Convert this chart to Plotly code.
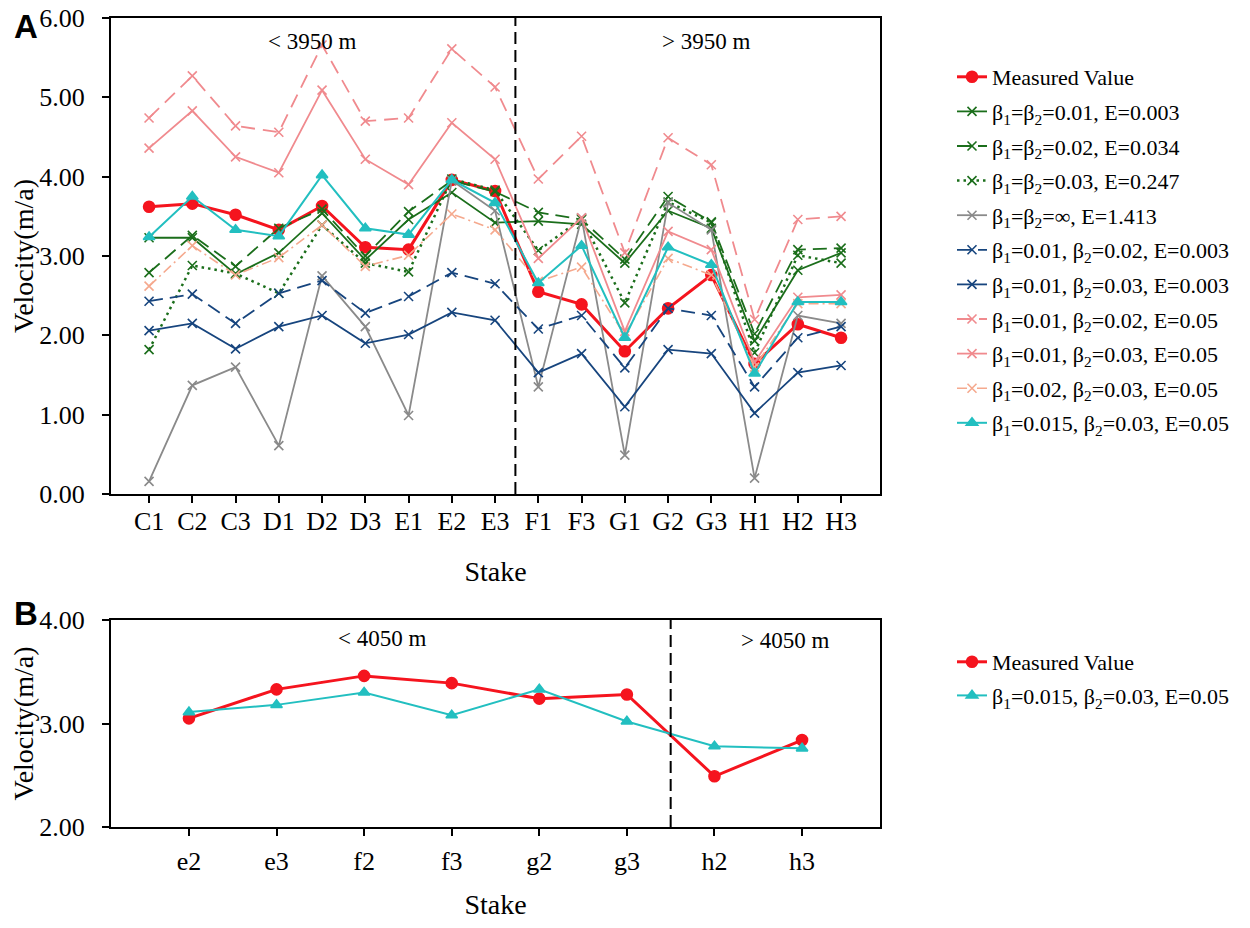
import plotly.graph_objects as go

# ---------------- data: panel A ----------------
stakes_a = ["C1", "C2", "C3", "D1", "D2", "D3", "E1", "E2", "E3",
            "F1", "F3", "G1", "G2", "G3", "H1", "H2", "H3"]
measured_a = [3.62, 3.66, 3.52, 3.33, 3.63, 3.11, 3.08, 3.96, 3.82,
              2.55, 2.39, 1.80, 2.34, 2.76, 1.64, 2.14, 1.97]
b_001_001 = [3.23, 3.23, 2.77, 3.04, 3.54, 2.95, 3.46, 3.80, 3.42,
             3.44, 3.40, 2.91, 3.57, 3.35, 1.93, 2.82, 3.04]
b_002_002 = [2.79, 3.26, 2.87, 3.35, 3.59, 3.00, 3.56, 3.95, 3.81,
             3.55, 3.46, 2.96, 3.75, 3.43, 2.02, 3.08, 3.10]
b_003_003 = [1.82, 2.88, 2.78, 2.53, 3.39, 2.91, 2.80, 3.97, 3.83,
             3.07, 3.47, 2.41, 3.68, 3.42, 1.78, 3.01, 2.91]
b_inf = [0.16, 1.37, 1.60, 0.61, 2.75, 2.11, 0.99, 3.95, 3.57,
         1.35, 3.48, 0.49, 3.67, 3.33, 0.20, 2.25, 2.15]
b_001_002_e003 = [2.43, 2.52, 2.15, 2.53, 2.69, 2.28, 2.49, 2.79, 2.65,
                  2.08, 2.25, 1.59, 2.34, 2.25, 1.35, 1.97, 2.11]
b_001_003_e003 = [2.06, 2.15, 1.83, 2.11, 2.25, 1.90, 2.01, 2.29, 2.19,
                  1.53, 1.77, 1.10, 1.82, 1.77, 1.02, 1.53, 1.62]
b_001_002_e005 = [4.74, 5.27, 4.64, 4.56, 5.66, 4.70, 4.74, 5.61, 5.13,
                  3.97, 4.51, 3.04, 4.49, 4.15, 2.20, 3.46, 3.50]
b_001_003_e005 = [4.36, 4.83, 4.25, 4.05, 5.09, 4.22, 3.90, 4.68, 4.22,
                  2.97, 3.48, 2.05, 3.31, 3.08, 1.66, 2.48, 2.51]
b_002_003_e005 = [2.62, 3.13, 2.76, 2.98, 3.39, 2.87, 3.01, 3.53, 3.33,
                  2.68, 2.86, 2.00, 2.97, 2.76, 1.60, 2.40, 2.40]
b_0015_003_e005 = [3.24, 3.75, 3.33, 3.25, 4.02, 3.35, 3.27, 3.96, 3.67,
                   2.66, 3.13, 1.97, 3.11, 2.89, 1.52, 2.42, 2.42]

# ---------------- data: panel B ----------------
stakes_b = ["e2", "e3", "f2", "f3", "g2", "g3", "h2", "h3"]
measured_b = [3.05, 3.33, 3.46, 3.39, 3.24, 3.28, 2.49, 2.84]
b_0015_003_b = [3.11, 3.18, 3.30, 3.08, 3.33, 3.02, 2.78, 2.76]

y_ticks_a = [0, 1, 2, 3, 4, 5, 6]
y_ticks_b = [2, 3, 4]

SERIF = "Liberation Serif, Times New Roman, serif"
SANS = "Liberation Sans, Arial, sans-serif"
RED = "#f5141e"
GREEN = "#1b6e1b"
GREY = "#8a8a8a"
BLUE = "#17457e"
CORAL = "#f08a8e"
PEACH = "#f5a98e"
CYAN = "#22bfc0"

# the page body adds an 8px margin; the figure is sized to fit inside the window
OFF = 8
W, H = 1250 - 2 * OFF, 928 - 2 * OFF


def px(x):
    return (x - OFF) / W


def py(y):
    return 1 - (y - OFF) / H


fig = go.Figure()

series_a = [
    ("Measured Value", measured_a, RED, "solid", 3, "circle", 11),
    ("β<sub>1</sub>=β<sub>2</sub>=0.01, E=0.003", b_001_001, GREEN, "solid", 1.8, "x-thin", 9),
    ("β<sub>1</sub>=β<sub>2</sub>=0.02, E=0.034", b_002_002, GREEN, "14px,7px", 1.8, "x-thin", 9),
    ("β<sub>1</sub>=β<sub>2</sub>=0.03, E=0.247", b_003_003, GREEN, "2.5px,4px", 2.5, "x-thin", 9),
    ("β<sub>1</sub>=β<sub>2</sub>=∞, E=1.413", b_inf, GREY, "solid", 1.8, "x-thin", 9),
    ("β<sub>1</sub>=0.01, β<sub>2</sub>=0.02, E=0.003", b_001_002_e003, BLUE, "14px,7px", 1.8, "x-thin", 9),
    ("β<sub>1</sub>=0.01, β<sub>2</sub>=0.03, E=0.003", b_001_003_e003, BLUE, "solid", 1.8, "x-thin", 9),
    ("β<sub>1</sub>=0.01, β<sub>2</sub>=0.02, E=0.05", b_001_002_e005, CORAL, "14px,8px", 1.8, "x-thin", 9),
    ("β<sub>1</sub>=0.01, β<sub>2</sub>=0.03, E=0.05", b_001_003_e005, CORAL, "solid", 1.8, "x-thin", 9),
    ("β<sub>1</sub>=0.02, β<sub>2</sub>=0.03, E=0.05", b_002_003_e005, PEACH, "10px,4px,2px,4px", 1.6, "x-thin", 9),
    ("β<sub>1</sub>=0.015, β<sub>2</sub>=0.03, E=0.05", b_0015_003_e005, CYAN, "solid", 2, "triangle-up", 10),
]

for i, (name, vals, col, dash, w, sym, sz) in enumerate(series_a):
    fig.add_trace(go.Scatter(
        x=stakes_a, y=vals, name=name, mode="lines+markers",
        line=dict(color=col, width=w, dash=dash),
        marker=dict(symbol=sym, size=sz, color=col, line=dict(color=col, width=1.6)),
        xaxis="x", yaxis="y", legend="legend", legendgroup="a%d" % i,
    ))

series_b = [
    ("Measured Value", measured_b, RED, "solid", 3, "circle", 11),
    ("β<sub>1</sub>=0.015, β<sub>2</sub>=0.03, E=0.05", b_0015_003_b, CYAN, "solid", 2, "triangle-up", 10),
]
for i, (name, vals, col, dash, w, sym, sz) in enumerate(series_b):
    fig.add_trace(go.Scatter(
        x=stakes_b, y=vals, name=name, mode="lines+markers",
        line=dict(color=col, width=w, dash=dash),
        marker=dict(symbol=sym, size=sz, color=col, line=dict(color=col, width=1.6)),
        xaxis="x2", yaxis="y2", legend="legend2", legendgroup="b%d" % i,
    ))

xdom = [px(111), px(880)]
ydom_a = [py(494), py(18)]
ydom_b = [py(827), py(620)]

axis_common = dict(
    showline=True, linecolor="black", linewidth=2, mirror=True,
    ticks="outside", ticklen=7, tickwidth=2, tickcolor="black",
    showgrid=False, zeroline=False, automargin=False,
    ticklabeloverflow="allow",
    tickfont=dict(family=SERIF, size=26, color="black"),
)
title_font = dict(family=SERIF, size=28, color="black")

fig.update_layout(
    width=W, height=H,
    margin=dict(l=0, r=0, t=0, b=0),
    paper_bgcolor="white", plot_bgcolor="white",
    showlegend=True,
    xaxis=dict(domain=xdom, anchor="y", type="category",
               range=[-0.88, 16.9], ticklabelstandoff=-4,
               title=dict(text="Stake", font=title_font, standoff=26),
               **axis_common),
    yaxis=dict(domain=ydom_a, anchor="x", range=[0, 6], tickvals=y_ticks_a,
               tickformat=".2f", ticklabelstandoff=12,
               title=dict(text="Velocity(m/a)", font=title_font, standoff=2),
               **axis_common),
    xaxis2=dict(domain=xdom, anchor="y2", type="category",
                range=[-0.89, 7.89], ticklabelstandoff=3,
                title=dict(text="Stake", font=title_font, standoff=34),
                **axis_common),
    yaxis2=dict(domain=ydom_b, anchor="x2", range=[2, 4], tickvals=y_ticks_b,
                tickformat=".2f", ticklabelstandoff=12,
                title=dict(text="Velocity(m/a)", font=title_font, standoff=2),
                **axis_common),
    legend=dict(x=px(952), y=py(56), xanchor="left", yanchor="top",
                font=dict(family=SERIF, size=22, color="black"),
                tracegroupgap=3, bgcolor="rgba(0,0,0,0)"),
    legend2=dict(x=px(952), y=py(641), xanchor="left", yanchor="top",
                 font=dict(family=SERIF, size=22, color="black"),
                 tracegroupgap=2, bgcolor="rgba(0,0,0,0)"),
    shapes=[
        dict(type="line", xref="x", yref="y domain", x0=8.47, x1=8.47, y0=0, y1=1,
             line=dict(color="black", width=2, dash="12px,6px")),
        dict(type="line", xref="x2", yref="y2 domain", x0=5.5, x1=5.5, y0=0, y1=1,
             line=dict(color="black", width=2, dash="12px,6px")),
    ],
    annotations=[
        dict(text="< 3950 m", x=px(312), y=py(42), xref="paper", yref="paper",
             xanchor="center", yanchor="middle",
             showarrow=False, font=dict(family=SERIF, size=23, color="black")),
        dict(text="> 3950 m", x=px(706), y=py(42), xref="paper", yref="paper",
             xanchor="center", yanchor="middle",
             showarrow=False, font=dict(family=SERIF, size=23, color="black")),
        dict(text="< 4050 m", x=px(382), y=py(638), xref="paper", yref="paper",
             xanchor="center", yanchor="middle",
             showarrow=False, font=dict(family=SERIF, size=23, color="black")),
        dict(text="> 4050 m", x=px(785), y=py(640), xref="paper", yref="paper",
             xanchor="center", yanchor="middle",
             showarrow=False, font=dict(family=SERIF, size=23, color="black")),
        dict(text="<b>A</b>", x=px(26), y=py(26), xref="paper", yref="paper",
             xanchor="center", yanchor="middle",
             showarrow=False, font=dict(family=SANS, size=33, color="black")),
        dict(text="<b>B</b>", x=px(26), y=py(613), xref="paper", yref="paper",
             xanchor="center", yanchor="middle",
             showarrow=False, font=dict(family=SANS, size=33, color="black")),
    ],
)

fig.write_html("out.html")
